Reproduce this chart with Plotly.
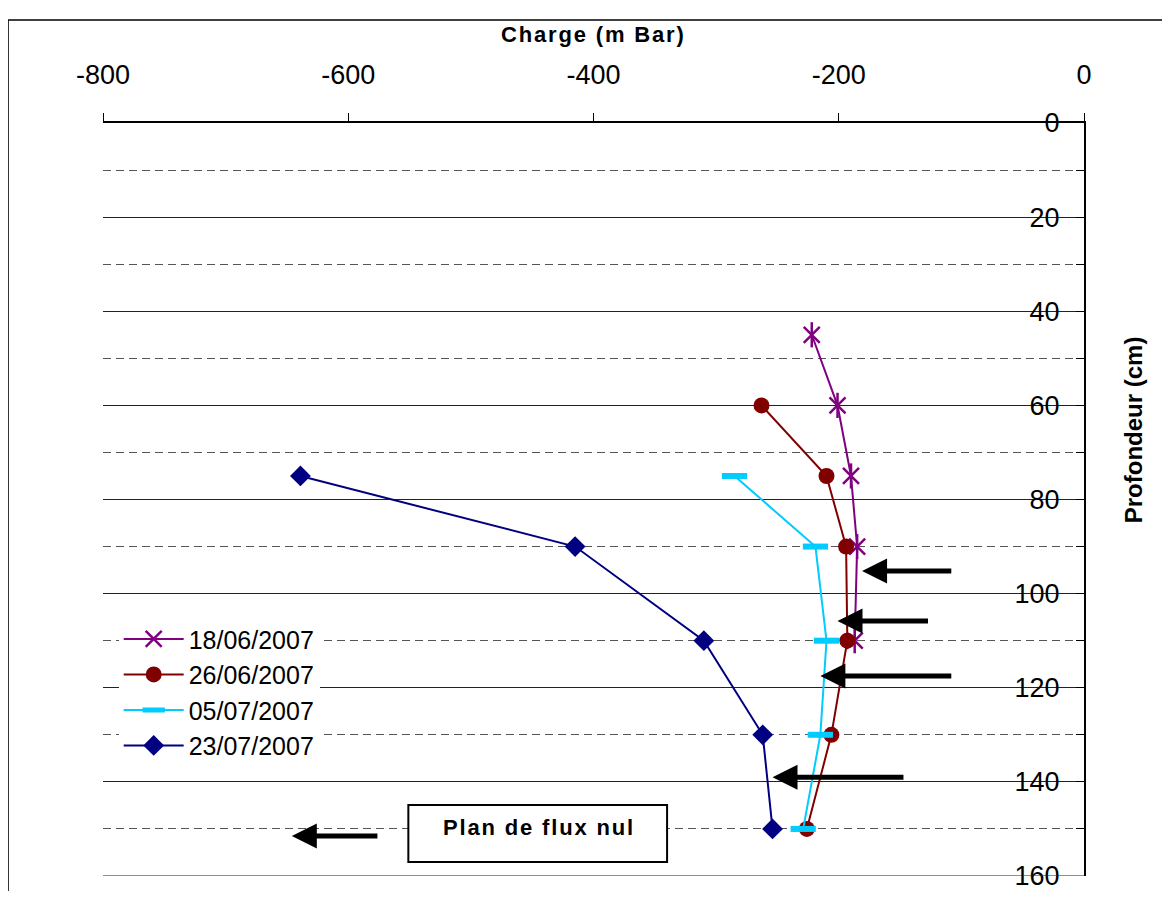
import plotly.graph_objects as go

# ---------------- data ----------------
dates = ["18/06/2007", "26/06/2007", "05/07/2007", "23/07/2007"]

depth_1806 = [45, 60, 75, 90, 110]
charge_1806 = [-222, -201, -190, -185, -187]

depth_2606 = [60, 75, 90, 110, 130, 150]
charge_2606 = [-263, -210, -194, -193, -206, -226]

depth_0507 = [75, 90, 110, 130, 150]
charge_0507 = [-285, -219, -210, -215, -229]

depth_2307 = [75, 90, 110, 130, 150]
charge_2307 = [-639, -415, -310, -262, -254]

x_ticks = [-800, -600, -400, -200, 0]
y_ticks = [0, 20, 40, 60, 80, 100, 120, 140, 160]

# arrows (tail -> tip, in data units)
arrow_tail_x = [-107, -126, -107, -146, -575]
arrow_tip_x = [-181, -201, -215, -254, -646]
arrow_y = [95.2, 105.8, 117.5, 139.0, 151.5]

box_label = "Plan de flux nul"
x_title = "Charge (m Bar)"
y_title = "Profondeur (cm)"

PURPLE = "#800080"
DARKRED = "#800000"
CYAN = "#00CCFF"
NAVY = "#000080"
FONT = "Arial, 'Liberation Sans', sans-serif"
HS = "\u200A"  # hair space for letter spacing


def spaced(s):
    return HS.join(list(s))


fig = go.Figure()

fig.add_trace(go.Scatter(
    x=charge_1806, y=depth_1806, name=dates[0], mode="lines+markers",
    legendgroup="a",
    line=dict(color=PURPLE, width=2),
    marker=dict(symbol="x-thin", size=16, color=PURPLE,
                line=dict(width=2.5, color=PURPLE))))
fig.add_trace(go.Scatter(
    x=charge_1806, y=depth_1806, mode="markers", showlegend=False,
    legendgroup="a", hoverinfo="skip",
    marker=dict(symbol="line-ns", size=18, color=PURPLE,
                line=dict(width=2.5, color=PURPLE))))

fig.add_trace(go.Scatter(
    x=charge_2606, y=depth_2606, name=dates[1], mode="lines+markers",
    line=dict(color=DARKRED, width=2),
    marker=dict(symbol="circle", size=16, color=DARKRED)))

fig.add_trace(go.Scatter(
    x=charge_0507, y=depth_0507, name=dates[2], mode="lines+markers",
    line=dict(color=CYAN, width=2),
    marker=dict(symbol="line-ew", size=18, color=CYAN,
                line=dict(width=6, color=CYAN))))

fig.add_trace(go.Scatter(
    x=charge_2307, y=depth_2307, name=dates[3], mode="lines+markers",
    line=dict(color=NAVY, width=2),
    marker=dict(symbol="diamond", size=16, color=NAVY)))

annotations = []
for tx, hx, yy in zip(arrow_tail_x, arrow_tip_x, arrow_y):
    annotations.append(dict(
        x=hx, y=yy, ax=tx, ay=yy, xref="x", yref="y", axref="x", ayref="y",
        text="", showarrow=True, arrowhead=2, arrowsize=1.0, arrowwidth=5,
        arrowcolor="black", standoff=0, startstandoff=0))

annotations.append(dict(
    x=-445, y=149.6, xref="x", yref="y", xanchor="center", yanchor="middle",
    text="<b>" + spaced(box_label) + "</b>",
    showarrow=False, font=dict(family=FONT, size=22, color="black")))

annotations.append(dict(
    x=0.4985, y=1.117, xref="paper", yref="paper", xanchor="center",
    yanchor="middle",
    text="<b>" + spaced(x_title) + "</b>", showarrow=False,
    font=dict(family=FONT, size=22, color="black")))

annotations.append(dict(
    x=1.05, y=0.592, xref="paper", yref="paper", textangle=-90,
    xanchor="center", yanchor="middle",
    text="<b>" + y_title + "</b>", showarrow=False,
    font=dict(family=FONT, size=24, color="black")))

shapes = [
    # text box
    dict(type="rect", xref="x", yref="y", x0=-551, x1=-340, y0=144.9, y1=157,
         line=dict(color="black", width=2), fillcolor="white", layer="above"),
    # bottom gridline at 160
    dict(type="line", xref="paper", yref="y", x0=0, x1=1, y0=160, y1=160,
         line=dict(color="#222", width=1.2)),
    # outer frame (left and top)
    dict(type="line", xref="paper", yref="paper", x0=-0.0968, x1=-0.0968,
         y0=1.1368, y1=-0.06, line=dict(color="black", width=1.5)),
    dict(type="line", xref="paper", yref="paper", x0=-0.0968, x1=1.1,
         y0=1.1368, y1=1.1368, line=dict(color="black", width=1.5)),
]

fig.update_layout(
    width=1154, height=883, autosize=False,
    margin=dict(l=95, r=78, t=115, b=15, autoexpand=False),
    paper_bgcolor="white", plot_bgcolor="white",
    font=dict(family=FONT, color="black"),
    showlegend=True,
    legend=dict(x=0.016, y=0.345, xanchor="left", yanchor="top",
                bgcolor="white", borderwidth=0, itemwidth=60,
                font=dict(family=FONT, size=25, color="black"),
                tracegroupgap=0),
    annotations=annotations,
    shapes=shapes,
)

fig.update_xaxes(
    side="top", range=[-800, 0], tickvals=x_ticks,
    ticktext=[str(v) for v in x_ticks],
    ticks="outside", ticklen=8, tickcolor="black", tickwidth=1,
    showline=True, linecolor="black", linewidth=1.5, mirror=False,
    showgrid=False, zeroline=False, automargin=False,
    tickfont=dict(family=FONT, size=27, color="black"),
    ticklabelstandoff=18, ticklabeloverflow="allow",
)

fig.update_yaxes(
    side="right", range=[160, 0], tickvals=y_ticks,
    ticktext=[str(v) for v in y_ticks],
    ticks="inside", ticklen=8, tickcolor="black", tickwidth=1,
    ticklabelposition="inside", ticklabeloverflow="allow",
    showline=True, linecolor="black", linewidth=1.5,
    showgrid=True, gridcolor="#222", gridwidth=1,
    zeroline=False, automargin=False,
    tickfont=dict(family=FONT, size=27, color="black"),
    ticklabelstandoff=19,
    minor=dict(tickvals=[10, 30, 50, 70, 90, 110, 130, 150], ticks="inside",
               ticklen=8, tickcolor="black", showgrid=True,
               gridcolor="#555", gridwidth=1, griddash="8px,5px"),
)

fig.write_html("out.html")
